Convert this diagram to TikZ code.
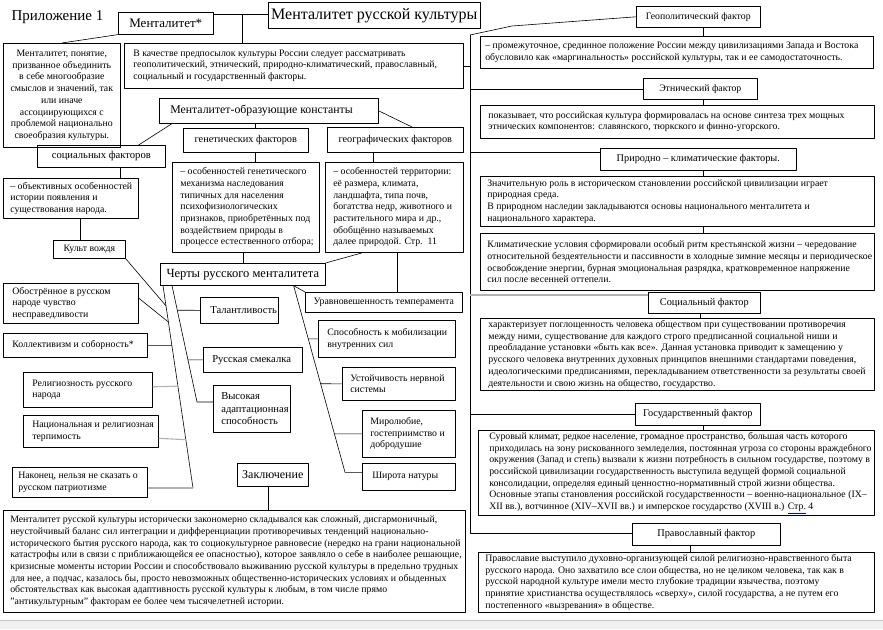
\documentclass[tikz,border=0pt]{standalone}
\usepackage{fontspec}
\setmainfont{Liberation Serif}
\usetikzlibrary{calc}
% left aligned text of a box: pad, width, lines
\newcommand{\tb}[3][7pt]{\parbox{#2}{\leftskip=#1\relax\rightskip=-9pt plus 1fil\relax\parindent=0pt\relax #3}}
\tikzset{
  box/.style={draw, line width=0.6pt, anchor=north west, inner xsep=0pt, inner ysep=2pt, font=\fontsize{9.8}{11.7}\selectfont},
  cbox/.style={draw, line width=0.6pt, anchor=north west, inner sep=1pt, align=center, font=\fontsize{9.8}{11.7}\selectfont},
  ht/.style={minimum height=#1},
  wh/.style 2 args={minimum width=#1, minimum height=#2},
  link/.style={line width=0.6pt},
  glink/.style={line width=1.1pt, gray!60},
  fa/.style={font=\fontsize{10.3}{12.5}\selectfont},
  fb/.style={font=\fontsize{10.6}{12.6}\selectfont},
  fc/.style={font=\fontsize{12.5}{15}\selectfont},
}
\begin{document}
\begin{tikzpicture}[x=1pt, y=-1pt, line join=round]
	\useasboundingbox (0,0) rectangle (883,629);
	% left half
	\node[anchor=west, font=\fontsize{15}{18}\selectfont] (app) at (8,17) {Приложение 1};
	\node[cbox, wh={95}{22}, font=\fontsize{13}{15}\selectfont] (ment) at (118,12) {Менталитет*};
	\node[cbox, wh={212}{26}, font=\fontsize{16}{19}\selectfont] (mrk) at (268,2) {Менталитет русской культуры};
	\node[cbox, wh={117}{104}] (def) at (3,43) {Менталитет, понятие,\\призванное объединить\\в себе многообразие\\смыслов и значений, так\\или иначе\\ассоциирующихся с\\проблемой национально\\своеобразия культуры.};
	\node[box, ht=45] (pre) at (124,43) {\tb[9pt]{339pt}{В качестве предпосылок культуры России следует рассматривать\\геополитический, этнический, природно-климатический, православный,\\социальный и государственный факторы.}};
	\node[box, ht=25, font=\fontsize{11.8}{14}\selectfont] (const) at (159,98) {\tb[11pt]{219pt}{Менталитет-образующие константы}};
	\node[cbox, wh={128}{22}, fb] (soc) at (37,145) {социальных факторов};
	\node[box, ht=40] (socd) at (3,178) {\tb{135pt}{– объективных особенностей\\истории появления и\\существования народа.}};
	\node[cbox, wh={72}{18}] (kult) at (53,240) {Культ вождя};
	\node[cbox, wh={125}{24}, fa] (gen) at (183,128) {генетических факторов};
	\node[box, ht=90] (gend) at (172,162) {\tb[8pt]{147pt}{– особенностей генетического\\механизма наследования\\типичных для населения\\психофизиологических\\признаков, приобретённых под\\воздействием природы в\\процессе естественного отбора;}};
	\node[cbox, wh={136}{25}, fa] (geo) at (327,127) {географических факторов};
	\node[box, ht=90] (geod) at (325,162) {\tb[8pt]{138pt}{– особенностей территории:\\её размера, климата,\\ландшафта, типа почв,\\богатства недр, животного и\\растительного мира и др.,\\обобщённо называемых\\далее природой. Стр.\ \ 11}};
	\node[cbox, wh={165}{22}, fc] (cher) at (160,263) {Черты русского менталитета};
	\node[cbox, wh={157}{20}] (urav) at (305,292) {Уравновешенность темперамента};
	\node[box, ht=40] (obos) at (3,283) {\tb[9pt]{135pt}{Обострённое в русском\\народе чувство\\несправедливости}};
	\node[box, ht=24] (koll) at (3,333) {\tb[9pt]{144pt}{Коллективизм и соборность*}};
	\node[box, ht=35] (rel) at (23,372) {\tb[9pt]{129pt}{Религиозность русского\\народа}};
	\node[box, ht=32] (nac) at (23,415) {\tb[9pt]{135pt}{Национальная и религиозная\\терпимость}};
	\node[box, ht=30] (nak) at (12,467) {\tb[6pt]{135pt}{Наконец, нельзя не сказать о\\русском патриотизме}};
	\node[box, ht=26, fb] (tal) at (200,297) {\tb[10pt]{78pt}{Талантливость}};
	\node[box, ht=25, fb] (sme) at (203,347) {\tb[9pt]{99pt}{Русская смекалка}};
	\node[box, ht=47, fb] (vys) at (213,385) {\tb[8pt]{77pt}{Высокая\\адаптационная\\способность}};
	\node[box, ht=37] (spo) at (318,320) {\tb[9pt]{137pt}{Способность к мобилизации\\внутренних сил}};
	\node[box, ht=33] (ust) at (342,367) {\tb[8pt]{113pt}{Устойчивость нервной\\системы}};
	\node[box, ht=47] (mir) at (362,410) {\tb[8pt]{93pt}{Миролюбие,\\гостеприимство и\\добродушие}};
	\node[box, ht=27] (shir) at (362,463) {\tb[10pt]{93pt}{Широта натуры}};
	\node[cbox, wh={71}{23}, font=\fontsize{12}{14}\selectfont] (zak) at (237,463) {Заключение};
	\node[box, ht=102] (zakd) at (3,510) {\tb{462pt}{Менталитет русской культуры исторически закономерно складывался как сложный, дисгармоничный,\\неустойчивый баланс сил интеграции и дифференциации противоречивых тенденций национально-\\исторического бытия русского народа, как то социокультурное равновесие (нередко на грани национальной\\катастрофы или в связи с приближающейся ее опасностью), которое заявляло о себе в наиболее решающие,\\кризисные моменты истории России и способствовало выживанию русской культуры в предельно трудных\\для нее, а подчас, казалось бы, просто невозможных общественно-исторических условиях и обыденных\\обстоятельствах как высокая адаптивность русской культуры к любым, в том числе прямо\\"антикультурным" факторам ее более чем тысячелетней истории.}};
	% right half
	\node[cbox, wh={124}{21}] (gpf) at (636,6) {Геополитический фактор};
	\node[box, ht=32] (gpd) at (480,36) {\tb[5pt]{393pt}{– промежуточное, срединное положение России между цивилизациями Запада и Востока\\обусловило как «маргинальность» российской культуры, так и ее самодостаточность.}};
	\node[cbox, wh={114}{21}] (etf) at (643,78) {Этнический фактор};
	\node[box, ht=33] (etd) at (480,105) {\tb[8pt]{394pt}{показывает, что российская культура формировалась на основе синтеза трех мощных\\этнических компонентов: славянского, тюркского и финно-угорского.}};
	\node[cbox, wh={196}{22}, fa] (prf) at (600,148) {Природно – климатические факторы.};
	\node[box, ht=50] (prd) at (480,176) {\tb{394pt}{Значительную роль в историческом становлении российской цивилизации играет\\природная среда.\\В природном наследии закладываются основы национального менталитета и\\национального характера.}};
	\node[box, ht=57] (prk) at (480,233) {\tb{394pt}{Климатические условия сформировали особый ритм крестьянской жизни – чередование\\относительной бездеятельности и пассивности в холодные зимние месяцы и периодическое\\освобождение энергии, бурная эмоциональная разрядка, кратковременное напряжение\\сил после весенней оттепели.}};
	\node[cbox, wh={112}{21}, fa] (sof) at (648,292) {Социальный фактор};
	\node[box, ht=72] (sod) at (480,318) {\tb[8pt]{394pt}{характеризует поглощенность человека обществом при существовании противоречия\\между ними, существование для каждого строго предписанной социальной ниши и\\преобладание установки «быть как все». Данная установка приводит к замещению у\\русского человека внутренних духовных принципов внешними стандартами поведения,\\идеологическими предписаниями, перекладыванием ответственности за результаты своей\\деятельности и свою жизнь на общество, государство.}};
	\node[cbox, wh={125}{22}, fa] (gsf) at (635,403) {Государственный фактор};
	\node[box, ht=85] (gsd) at (478,430) {\tb[11pt]{396pt}{Суровый климат, редкое население, громадное пространство, большая часть которого\\приходилась на зону рискованного земледелия, постоянная угроза со стороны враждебного\\окружения (Запад и степь) вызвали к жизни потребность в сильном государстве, поэтому в\\российской цивилизации государственность выступила ведущей формой социальной\\консолидации, определяя единый ценностно-нормативный строй жизни общества.\\Основные этапы становления российской государственности – военно-национальное (IX–\\XII вв.), вотчинное (XIV–XVII вв.) и имперское государство (XVIII в.) {\color{blue}\underline{\color{black}Стр.}} 4}};
	\node[cbox, wh={148}{22}, fa] (pvf) at (632,523) {Православный фактор};
	\node[box, ht=60] (pvd) at (478,552) {\tb{396pt}{Православие выступило духовно-организующей силой религиозно-нравственного быта\\русского народа. Оно захватило все слои общества, но не целиком человека, так как в\\русской народной культуре имели место глубокие традиции язычества, поэтому\\принятие христианства осуществлялось «сверху», силой государства, а не путем его\\постепенного «вызревания» в обществе.}};
	% x levels of the short uprights
	\coordinate (xs) at (120,0); \coordinate (xk) at (80,0);
	\coordinate (xg) at (255,0); \coordinate (xc) at (243,0); \coordinate (xr) at (373,0);
	\coordinate (xu) at (397,0); \coordinate (xz) at (268,0);
	\coordinate (xv) at (703,0); \coordinate (xw) at (700,0); \coordinate (xp) at (690,0);
	% top links
	\coordinate (j0) at (242,14);
	\draw[link] (ment.east |- j0) -- (mrk.west |- j0);
	\draw[link] (j0) -- (j0 |- pre.north);
	\draw[link] (def.north) -- (ment.south west);
	\draw[link] ($(const.south west)+(13,0)$) -- ($(soc.north east)+(-27,0)$);
	\draw[link] (xs |- soc.south) -- (xs |- socd.north);
	\draw[link] (xk |- socd.south) -- (xk |- kult.north);
	\draw[link] (xg |- const.south) -- (xg |- gen.north);
	\draw[link] (xg |- gen.south) -- (xg |- gend.north);
	\draw[link] (const.east) -- ($(geo.north west)+(85,0)$);
	\draw[link] (xr |- geo.south) -- (xr |- geod.north);
	\draw[link] (xc |- gend.south) -- (xc |- cher.north);
	\draw[link] ($(geod.south west)+(38,0)$) -- (cher.north east);
	\draw[link] (xu |- geod.south) -- (xu |- urav.north);
	\draw[link] (xz |- zak.south) -- (xz |- zakd.north);
	% slanted bars under the traits
	\coordinate (ta) at ($(cher.south west)+(3,0)$);
	\coordinate (ba) at (193,488);
	\coordinate (tb) at ($(cher.south west)+(12,0)$);
	\coordinate (bb) at ($(vys.north west)+(-16,17)$);
	\coordinate (tc) at ($(cher.south east)+(-32,0)$);
	\coordinate (bc) at ($(shir.west)+(-17,-4.5)$);
	\draw[link] (ta) -- (ba);
	\draw[glink] (ba) -- (ba -| nak.east);
	\draw[link] (kult.south east) -- ($(ta)!0.1!(ba)$);
	\draw[link] ($(obos.north east)+(0,15)$) -- ($(ta)!0.18!(ba)$);
	\draw[link] (koll.east) -- (intersection of ta--ba and koll.east--koll.west);
	\coordinate (re) at ($(rel.east)+(0,-3)$);
	\coordinate (ne) at ($(nac.east)+(0,7)$);
	\draw[glink] (re) -- (intersection of ta--ba and re--rel.west);
	\draw[glink] (ne) -- (intersection of ta--ba and ne--nac.west);
	\draw[link] (tb) -- (bb) -- (vys.west |- bb);
	\draw[link] (tal.west) -- (intersection of tb--bb and tal.west--tal.east);
	\draw[link] (sme.west) -- (intersection of tb--bb and sme.west--sme.east);
	\draw[link] (tc) -- (urav.north west);
	\draw[link] (tc) -- (bc) -- (shir.west |- bc);
	\draw[link] (spo.west) -- (intersection of tc--bc and spo.west--spo.east);
	\draw[link] (ust.west) -- (intersection of tc--bc and ust.west--ust.east);
	\draw[link] (mir.west) -- (intersection of tc--bc and mir.west--mir.east);
	% right spine
	\coordinate (sp0) at (470,35);
	\coordinate (sp1) at (470,533);
	\coordinate (kink) at (512,26);
	\draw[link] (sp0) -- (sp1) -- (sp1 -| pvf.west);
	\draw[link] (sp0) -- (kink) -- (gpf.west);
	\draw[link] (pre.east) -- (pre.east -| sp0);
	\draw[link] (sp0 |- etf.west) -- (etf.west);
	\draw[link] (sp0 |- prf.north west) ++(0,4) -- ($(prf.north west)+(0,4)$);
	\draw[glink] (sp0 |- sof.north west) ++(0,3) -- ($(sof.north west)+(0,3)$);
	\draw[link] (sp0 |- gsf.west) -- (gsf.west);
	\draw[link] (xv |- gpf.south) -- (xv |- gpd.north);
	\draw[link] (xv |- etf.south) -- (xv |- etd.north);
	\draw[link] (xv |- prf.south) -- (xv |- prd.north);
	\draw[link] (xv |- prd.south) -- (xv |- prk.north);
	\draw[link] (xw |- sof.south) -- (xw |- sod.north);
	\draw[link] (xv |- gsf.south) -- (xv |- gsd.north);
	\draw[link] (xp |- pvf.south) -- (xp |- pvd.north);
	% page edge
	\fill[gray!12] (0,620) rectangle (883,629);
	\draw[gray!45] (0,620) -- (883,620);
\end{tikzpicture}
\end{document}
